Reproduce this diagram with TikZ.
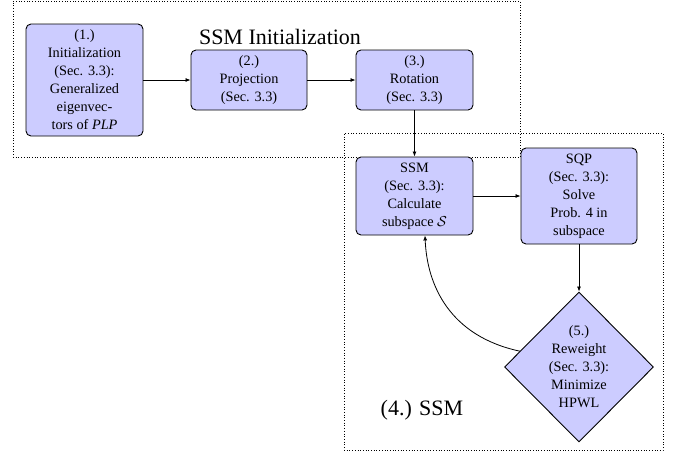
\documentclass[tikz,border=0pt]{standalone}
\usepackage{fontspec}
\setmainfont{Liberation Serif}
\usetikzlibrary{shapes.geometric,arrows.meta,calc}
\begin{document}
\begin{tikzpicture}[x=1pt,y=-1pt,
  stepbox/.style={draw=black, line width=0.9pt, fill=blue!20, rounded corners=5pt,
    align=center, inner sep=0pt, font=\fontsize{14.3pt}{18pt}\selectfont},
  decide/.style={draw=black, line width=0.9pt, fill=blue!20, shape=diamond, aspect=1,
    align=center, inner sep=0pt, font=\fontsize{14.3pt}{18pt}\selectfont},
  frame/.style={draw=black, dotted, line width=0.7pt, inner sep=0pt},
  biglabel/.style={font=\fontsize{22pt}{26pt}\selectfont, inner sep=0pt},
  conn/.style={line width=0.8pt, -{Latex[length=5pt,width=4pt]}}]
\useasboundingbox (0,0) rectangle (683,453);
% frames
\node[frame, minimum width=507pt, minimum height=156pt] (initframe) at (266.5,79) {};
\node[frame, minimum width=319pt, minimum height=317pt] (ssmframe) at (503.5,291.5) {};
\node[biglabel] (initlabel) at (280,37) {SSM Initialization};
\node[biglabel] (ssmlabel) at (422,410) {(4.) SSM};
% steps
\node[stepbox, minimum width=117pt, minimum height=112pt] (init) at (84.5,80)
  {(1.)\\Initialization\\(Sec. 3.3):\\Generalized\\eigenvec-\\tors of \textit{PLP}};
\node[stepbox, minimum width=116pt, minimum height=60pt] (proj) at (249,80)
  {(2.)\\Projection\\(Sec. 3.3)};
\node[stepbox, minimum width=117pt, minimum height=60pt] (rot) at (414.5,80)
  {(3.)\\Rotation\\(Sec. 3.3)};
\node[stepbox, minimum width=117pt, minimum height=78pt] (ssm) at (414.5,196)
  {SSM\\(Sec. 3.3):\\Calculate\\subspace $\mathcal{S}$};
\node[stepbox, minimum width=116pt, minimum height=96pt] (sqp) at (579,196)
  {SQP\\(Sec. 3.3):\\Solve\\Prob. 4 in\\subspace};
\node[decide, minimum width=149pt, minimum height=150pt] (rw) at (579,367)
  {(5.)\\Reweight\\(Sec. 3.3):\\Minimize\\HPWL};
% connectors
\draw[conn] (init) -- (proj);
\draw[conn] (proj) -- (rot);
\draw[conn] (rot) -- (ssm);
\draw[conn] (ssm) -- (sqp);
\draw[conn] (sqp) -- (rw);
\coordinate (rwout) at ($(rw.west)!0.21!(rw.north)$);
\coordinate (ssmin) at ($(ssm.south)+(10.5,0)$);
\draw[conn] (rwout) .. controls +(-70,-15) and +(2,50) .. (ssmin);
\end{tikzpicture}
\end{document}
